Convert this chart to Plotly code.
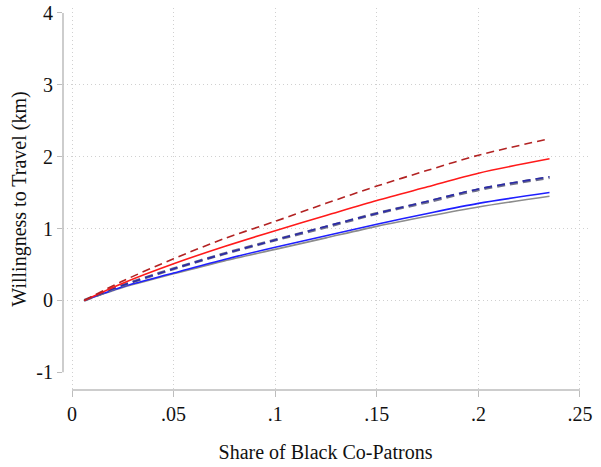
import plotly.graph_objects as go

x_vals = [0.006, 0.025, 0.05, 0.075, 0.10, 0.125, 0.15, 0.175, 0.20, 0.235]

gray_solid = [0.0, 0.18, 0.37, 0.55, 0.71, 0.87, 1.03, 1.17, 1.30, 1.45]
blue_solid = [0.0, 0.19, 0.38, 0.57, 0.74, 0.90, 1.06, 1.21, 1.35, 1.50]
gray_dash = [0.0, 0.21, 0.44, 0.65, 0.84, 1.02, 1.21, 1.37, 1.54, 1.71]
navy_dash = [0.0, 0.21, 0.44, 0.65, 0.84, 1.03, 1.21, 1.38, 1.55, 1.72]
red_solid = [0.0, 0.24, 0.51, 0.75, 0.97, 1.18, 1.39, 1.58, 1.77, 1.97]
darkred_dash = [0.0, 0.27, 0.58, 0.86, 1.10, 1.35, 1.59, 1.81, 2.02, 2.25]

x_ticks = [0, 0.05, 0.10, 0.15, 0.20, 0.25]
x_ticklabels = ["0", ".05", ".1", ".15", ".2", ".25"]
y_ticks = [-1, 0, 1, 2, 3, 4]
y_ticklabels = ["-1", "0", "1", "2", "3", "4"]
y_grid = [0, 1, 2, 3]

series = [
    (gray_solid, "#8c8c8c", "solid", 1.6),
    (blue_solid, "#1f1fff", "solid", 1.6),
    (gray_dash, "#70708a", "8px,5px", 3.0),
    (navy_dash, "#2b2ba8", "8px,5px", 1.6),
    (red_solid, "#ff1a1a", "solid", 1.6),
    (darkred_dash, "#b22222", "8px,5px", 1.6),
]

fig = go.Figure()
for ys, col, dash, w in series:
    fig.add_trace(go.Scatter(x=x_vals, y=ys, mode="lines",
                             line=dict(color=col, dash=dash, width=w, shape="spline",
                                       smoothing=0.8),
                             showlegend=False, hoverinfo="skip"))

font = dict(family="Liberation Serif, Times New Roman, serif", size=20, color="#111111")
gridc = "#d0d0d0"
axc = "#bdbdbd"

fig.update_layout(
    width=601, height=467,
    margin=dict(l=63, r=13, t=2, b=77),
    paper_bgcolor="white", plot_bgcolor="white",
    font=font,
    xaxis=dict(range=[-0.00443, 0.25394], tickvals=x_ticks, ticktext=x_ticklabels,
               showline=False, zeroline=False, showgrid=True, gridcolor=gridc,
               griddash="1px,3px", gridwidth=1, ticks="outside", ticklen=6,
               tickcolor=axc, tickwidth=1, ticklabeloverflow="allow",
               title=dict(text="Share of Black Co-Patrons", font=font, standoff=20)),
    yaxis=dict(range=[-1.2466, 4.068], tickvals=y_ticks, ticktext=y_ticklabels,
               showline=False, zeroline=False, showgrid=False,
               ticks="outside", ticklen=5, tickcolor=axc, tickwidth=1,
               ticklabeloverflow="allow",
               minor=dict(tickvals=y_grid, showgrid=True, gridcolor=gridc,
                          griddash="1px,3px", gridwidth=1, ticks=""),
               title=dict(text="Willingness to Travel (km)", font=font, standoff=4)),
)

# detached axis lines (Stata style)
fig.add_shape(type="line", xref="x", yref="paper", x0=0, x1=0.25, y0=0, y1=0,
              line=dict(color=axc, width=1.5))
fig.add_shape(type="line", xref="paper", yref="y", x0=0, x1=0, y0=-1, y1=4,
              line=dict(color=axc, width=1.5))

fig.write_html("out.html")
